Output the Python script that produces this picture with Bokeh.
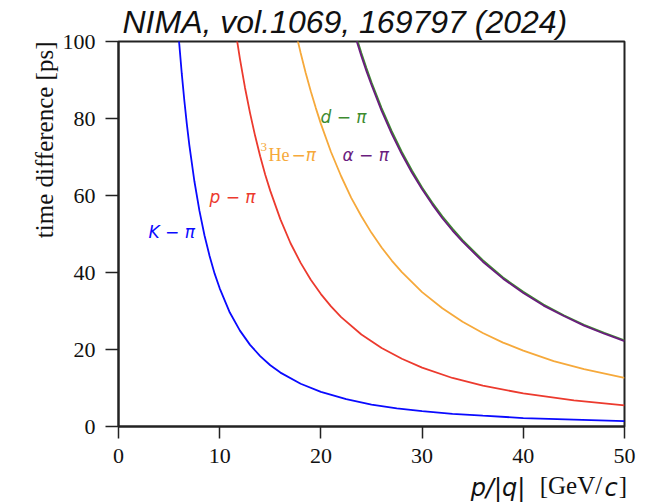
import math
from bokeh.plotting import figure
from bokeh.models import ColumnDataSource, Range1d, Label, FixedTicker, LinearAxis, Title
from bokeh.embed import file_html
from bokeh.resources import INLINE

# ---- data ----
k_x = [5.8,6,6.25,6.5,6.75,7,7.5,8,8.5,9,9.5,10,11,12,13,14,15,16,18,20,22.5,25,27.5,30,33,36,40,45,50]
k_y = [106.4,99.5,91.7,84.8,78.6,73.1,63.7,56.0,49.6,44.3,39.7,35.9,29.6,24.9,21.2,18.3,15.9,14.0,11.1,9.0,7.1,5.7,4.7,4.0,3.3,2.8,2.2,1.8,1.4]
p_x = [11.6,12,12.5,13,13.5,14,14.5,15,16,17,18,19,20,21,22,24,26,28,30,33,36,40,45,50]
p_y = [102.2,95.5,88.0,81.4,75.5,70.2,65.4,61.2,53.8,47.6,42.5,38.1,34.4,31.2,28.4,23.9,20.4,17.6,15.3,12.6,10.6,8.6,6.8,5.5]
he_x = [17.5,18,18.5,19,19.5,20,21,22,23,24,25,26,27,28,30,32,34,36,38,40,43,46,50]
he_y = [102.6,97.0,91.8,87.1,82.7,78.6,71.3,65.0,59.4,54.6,50.3,46.5,43.1,40.1,34.9,30.7,27.2,24.3,21.8,19.7,17.0,14.9,12.6]
d_x = [23.3,24,24.5,25,26,27,28,29,30,31,32,33,34,36,38,40,42,44,46,48,50]
d_y = [102.9,97.0,93.1,89.4,82.7,76.7,71.3,66.5,62.1,58.2,54.6,51.4,48.4,43.2,38.7,35.0,31.7,28.9,26.4,24.3,22.4]
a_x = [23.3,24,24.5,25,26,27,28,29,30,31,32,33,34,36,38,40,42,44,46,48,50]
a_y = [102.1,96.2,92.3,88.7,82.0,76.0,70.7,65.9,61.6,57.7,54.1,50.9,48.0,42.8,38.4,34.7,31.4,28.7,26.2,24.1,22.2]
x_ticks = [0, 10, 20, 30, 40, 50]
y_ticks = [0, 20, 40, 60, 80, 100]
title_text = "NIMA, vol.1069, 169797 (2024)"
y_label = "time difference [ps]"
# x-axis label pieces: italic (math) parts and roman parts, keyed by their x centre
xlab_italic = {37.5: "p/|q|", 48.67: "c"}
xlab_roman = {44.71: "[GeV/", 49.85: "]"}

C_K = "#0a0aff"
C_P = "#ec3a2e"
C_HE = "#f6a93b"
C_D = "#3d8b2f"
C_A = "#6a1d7e"
INK = "#111111"

p = figure(width=662, height=504, output_backend="svg", toolbar_location=None,
           x_range=Range1d(0, 50), y_range=Range1d(0, 100),
           min_border_left=118, min_border_right=38, min_border_top=41, min_border_bottom=78)
p.background_fill_color = "white"
p.border_fill_color = "white"
p.grid.visible = False
p.outline_line_color = "#222222"
p.outline_line_width = 2

p.title.text = title_text
p.title.text_font = "Liberation Sans"
p.title.text_font_style = "italic"
p.title.text_font_size = "32px"
p.title.text_color = INK
p.title.align = "left"
p.title.offset = 4
p.title.standoff = 3

for ax in (p.xaxis, p.yaxis):
    ax.axis_line_color = "#222222"
    ax.axis_line_width = 2
    ax.major_tick_line_color = "#222222"
    ax.major_tick_line_width = 1.5
    ax.major_tick_out = 12
    ax.major_tick_in = 0
    ax.minor_tick_line_color = None
    ax.major_label_text_font = "Liberation Serif"
    ax.major_label_text_font_size = "22px"
    ax.major_label_text_color = INK
p.xaxis.ticker = FixedTicker(ticks=x_ticks)
p.yaxis.ticker = FixedTicker(ticks=y_ticks)
p.xaxis.major_label_standoff = 10
p.yaxis.major_label_standoff = 10
p.yaxis.major_tick_out = 13

# y-axis label as a side title aligned to the top of the frame
p.add_layout(Title(text=y_label, align="right", text_font="Liberation Serif",
                   text_font_style="normal", text_font_size="25px",
                   text_color=INK, standoff=4), "left")

def label_axis(pieces, font, style, size, standoff):
    ticks = list(pieces.keys())
    ax = LinearAxis(ticker=FixedTicker(ticks=ticks), major_label_overrides=pieces,
                    axis_line_color=None, major_tick_line_color=None,
                    minor_tick_line_color=None, major_tick_out=0, major_tick_in=0,
                    major_label_text_font=font, major_label_text_font_style=style,
                    major_label_text_font_size=size, major_label_text_color=INK,
                    major_label_standoff=standoff)
    p.add_layout(ax, "below")

label_axis(xlab_italic, "DejaVu Sans", "italic", "24px", 8)
label_axis(xlab_roman, "Liberation Serif", "normal", "25px", -33)

def curve(xs, ys, color):
    src = ColumnDataSource(dict(x=xs, y=ys))
    p.line("x", "y", source=src, line_color=color, line_width=1.8)

curve(k_x, k_y, C_K)
curve(p_x, p_y, C_P)
curve(he_x, he_y, C_HE)
curve(d_x, d_y, C_D)
curve(a_x, a_y, C_A)

def lab(x, y, text, color, font="DejaVu Sans", size="17px", style="italic"):
    p.add_layout(Label(x=x, y=y, text=text, text_color=color, text_font=font,
                       text_font_size=size, text_font_style=style,
                       text_baseline="alphabetic", text_align="left"))

lab(2.96, 50.4, "K \u2212 \u03c0", C_K)
lab(8.99, 59.7, "p \u2212 \u03c0", C_P)
lab(14.03, 72.5, "3", C_HE, font="Liberation Serif", size="13px", style="normal")
lab(14.82, 70.4, "He", C_HE, font="Liberation Serif", size="18px", style="normal")
lab(17.1, 70.4, "\u2212\u03c0", C_HE)
lab(19.96, 80.3, "d \u2212 \u03c0", C_D)
lab(22.13, 70.4, "\u03b1 \u2212 \u03c0", C_A)

open("out.html", "w").write(file_html(p, INLINE))
